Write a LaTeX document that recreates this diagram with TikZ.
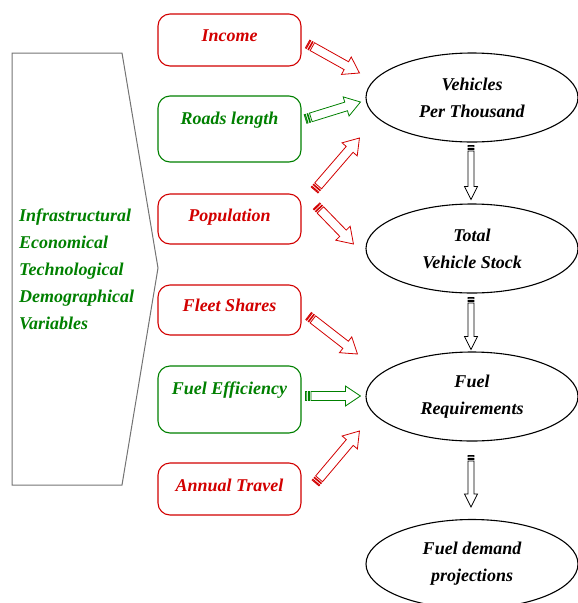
\documentclass[tikz,border=0pt]{standalone}
\usepackage{fontspec}
\newfontfamily\diagramfont{Liberation Serif}
\usetikzlibrary{shapes.geometric,calc,positioning}
\definecolor{factorred}{RGB}{210,0,0}
\definecolor{factorgreen}{RGB}{0,128,0}
\tikzset{
	factor/.style={
		rectangle, minimum width=143pt, rounded corners=12pt,
		line width=1.1pt, inner sep=0pt, fill=white
	},
	%
	redfactor/.style={factor, draw=factorred},
	greenfactor/.style={factor, draw=factorgreen},
	%
	factortext/.style={
		font=\fontsize{18}{27}\diagramfont\bfseries\itshape,
		text height=1.4ex, text depth=0.3ex, inner sep=0pt
	},
	%
	stage/.style={
		ellipse, minimum width=212pt, minimum height=89pt, inner sep=0pt,
		line width=1.1pt, draw=black, align=center,
		font=\fontsize{18}{27}\diagramfont\bfseries\itshape
	},
	%
	blockarrow/.style n args={4}{
		draw=#1, fill=white, line width=0.8pt,
		to path={
			let \p1=(\tikztostart), \p2=(\tikztotarget),
			    \n1={atan2(\y2-\y1,\x2-\x1)}
			in
			($(\tikztostart)+(\n1:5.5pt)+(\n1-90:#2)$)
			-- ($(\tikztotarget)+(\n1+180:#4)+(\n1-90:#2)$)
			-- ($(\tikztotarget)+(\n1+180:#4)+(\n1-90:#3)$)
			-- (\tikztotarget)
			-- ($(\tikztotarget)+(\n1+180:#4)+(\n1+90:#3)$)
			-- ($(\tikztotarget)+(\n1+180:#4)+(\n1+90:#2)$)
			-- ($(\tikztostart)+(\n1:5.5pt)+(\n1+90:#2)$)
			-- cycle
			($(\tikztostart)+(\n1-90:#2)$)
			-- ($(\tikztostart)+(\n1:1.2pt)+(\n1-90:#2)$)
			-- ($(\tikztostart)+(\n1:1.2pt)+(\n1+90:#2)$)
			-- ($(\tikztostart)+(\n1+90:#2)$) -- cycle
			($(\tikztostart)+(\n1:3pt)+(\n1-90:#2)$)
			-- ($(\tikztostart)+(\n1:3.8pt)+(\n1-90:#2)$)
			-- ($(\tikztostart)+(\n1:3.8pt)+(\n1+90:#2)$)
			-- ($(\tikztostart)+(\n1:3pt)+(\n1+90:#2)$) -- cycle
		}
	},
	%
	redarrow/.style={blockarrow={factorred}{4.5pt}{10pt}{15pt}},
	greenarrow/.style={blockarrow={factorgreen}{4.5pt}{10pt}{15pt}},
	blackarrow/.style={blockarrow={black}{3pt}{6.5pt}{13pt}}
}

\begin{document}
\begin{tikzpicture}[x=1pt, y=-1pt]
    \useasboundingbox (0,0) rectangle (578,603);
    % input variables
    \draw[black!55, line width=1pt] (12,53) -- (122,53) -- (158,268) -- (122,485) -- (12,485) -- cycle;
    \node(variables)[factortext, text height=, text depth=, align=left, anchor=west, text=factorgreen]
        at (19,269.5) {Infrastructural\\Economical\\Technological\\Demographical\\Variables};
    % factors
    \node(income)[redfactor, minimum height=52pt] at (229.5,40) {};
    \node(incometext)[factortext, text=factorred] at ([yshift=-26pt]income.north) {Income};
    \node(roads)[greenfactor, minimum height=66pt] at (229.5,129) {};
    \node(roadstext)[factortext, text=factorgreen] at ([yshift=-27pt]roads.north) {Roads length};
    \node(population)[redfactor, minimum height=50pt] at (229.5,219) {};
    \node(populationtext)[factortext, text=factorred] at ([yshift=-26pt]population.north) {Population};
    \node(fleet)[redfactor, minimum height=50pt] at (229.5,310) {};
    \node(fleettext)[factortext, text=factorred] at ([yshift=-25pt]fleet.north) {Fleet Shares};
    \node(efficiency)[greenfactor, minimum height=67pt] at (229.5,399.5) {};
    \node(efficiencytext)[factortext, text=factorgreen] at ([yshift=-27pt]efficiency.north) {Fuel Efficiency};
    \node(travel)[redfactor, minimum height=52pt] at (229.5,489) {};
    \node(traveltext)[factortext, text=factorred] at ([yshift=-27pt]travel.north) {Annual Travel};
    % stages
    \node(vpt)[stage] at (472,97.5) {Vehicles\\Per Thousand};
    \node(stock)[stage] at (472,248.5) {Total\\Vehicle Stock};
    \node(fuel)[stage] at (472,396.5) {Fuel\\Requirements};
    \node(demand)[stage] at (472,564) {Fuel demand\\projections};
    % arrows
    \draw[redarrow] ([shift={(6,4)}]income.east) to ([shift={(-6,-24.5)}]vpt.west);
    \draw[greenarrow] ([shift={(4,-10)}]roads.east) to ([shift={(-5,4.5)}]vpt.west);
    \draw[redarrow] ([shift={(13,-29)}]population.east) to ([shift={(-6,40.5)}]vpt.west);
    \draw[redarrow] ([shift={(15,-13)}]population.east) to ([shift={(-12,-4.5)}]stock.west);
    \draw[redarrow] ([shift={(7,6)}]fleet.east) to ([shift={(-8,-42.5)}]fuel.west);
    \draw[greenarrow] ([shift={(4,-3.5)}]efficiency.east) to ([shift={(-5,-0.5)}]fuel.west);
    \draw[redarrow] ([shift={(14,-6)}]travel.east) to ([shift={(-6,34.5)}]fuel.west);
    \draw[blackarrow] ([shift={(-1,3)}]vpt.south) to ([shift={(-1,-4)}]stock.north);
    \draw[blackarrow] ([shift={(-1,4)}]stock.south) to ([shift={(-1,-2)}]fuel.north);
    \draw[blackarrow] ([shift={(-1,14)}]fuel.south) to ([shift={(-1,-12)}]demand.north);
\end{tikzpicture}
\end{document}
